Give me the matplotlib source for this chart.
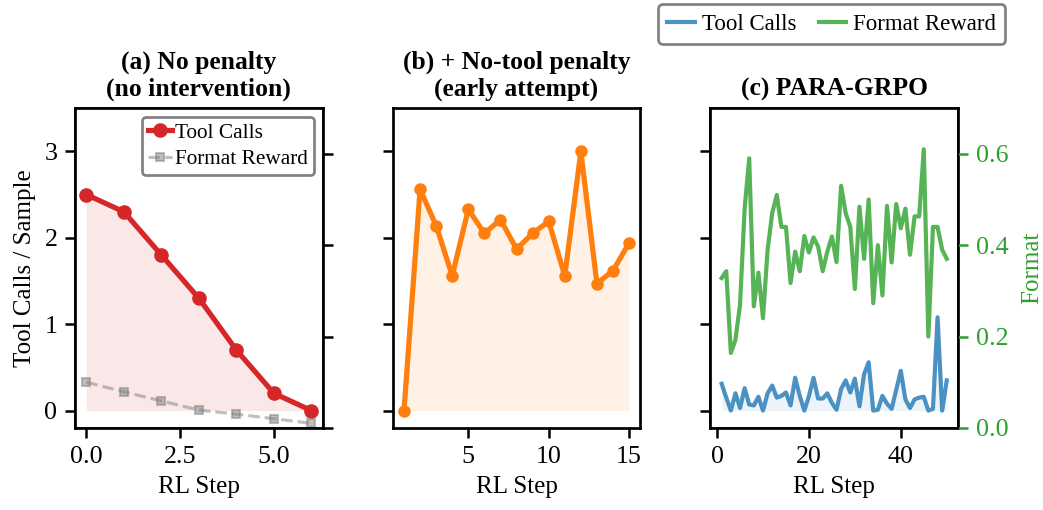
import matplotlib
matplotlib.use('Agg')
import matplotlib.pyplot as plt

plt.rcParams['font.family'] = ['Liberation Serif', 'DejaVu Serif']
plt.rcParams['font.size'] = 12

# (a) sin penalización
pasos_a = [0, 1, 2, 3, 4, 5, 6]
llamadas_a = [2.5, 2.3, 1.8, 1.3, 0.7, 0.2, 0.0]
formato_a = [0.100, 0.079, 0.059, 0.039, 0.030, 0.020, 0.010]

# (b) penalización por no usar herramientas
pasos_b = list(range(1, 16))
llamadas_b = [0.0, 2.56, 2.14, 1.56, 2.33, 2.05, 2.21, 1.87, 2.05, 2.19,
              1.56, 3.0, 1.47, 1.62, 1.94]

# (c) PARA-GRPO
pasos_c = list(range(1, 51))
llamadas_c = [0.31, 0.15, 0.0, 0.2, 0.03, 0.26, 0.07, 0.06, 0.16, 0.0,
              0.2, 0.29, 0.15, 0.17, 0.21, 0.06, 0.38, 0.17, 0.0, 0.17,
              0.38, 0.14, 0.14, 0.2, 0.09, 0.01, 0.25, 0.35, 0.21, 0.37,
              0.05, 0.42, 0.56, 0.0, 0.01, 0.17, 0.08, 0.02, 0.24, 0.46,
              0.13, 0.03, 0.13, 0.15, 0.16, 0.0, 0.02, 1.08, 0.0, 0.35]
formato_c = [0.328, 0.343, 0.164, 0.193, 0.27, 0.48, 0.59, 0.266, 0.34, 0.24,
             0.39, 0.47, 0.51, 0.44, 0.44, 0.317, 0.386, 0.343, 0.42, 0.384,
             0.417, 0.397, 0.343, 0.386, 0.419, 0.363, 0.53, 0.47, 0.44, 0.304,
             0.484, 0.37, 0.50, 0.273, 0.40, 0.29, 0.486, 0.362, 0.49, 0.437,
             0.48, 0.379, 0.463, 0.463, 0.61, 0.20, 0.44, 0.44, 0.39, 0.37]

ROJO = '#d62728'
NARANJA = '#ff7f0e'
AZUL = '#1f77b4'
VERDE = '#2ca02c'

fig, axes = plt.subplots(1, 3, figsize=(1043 / 150, 510 / 150), sharey=True)
plt.subplots_adjust(left=0.072, right=0.9185, bottom=0.161, top=0.788, wspace=0.283)

for ax in axes:
    ax.set_ylim(-0.2, 3.5)
    ax.set_yticks([0, 1, 2, 3])
    ax.set_xlabel('RL Step')
    ax.tick_params(direction='out', length=5, width=1.2, labelsize=12.5)
    for s in ax.spines.values():
        s.set_linewidth(1.3)

# (a)
ax = axes[0]
ax.fill_between(pasos_a, 0, llamadas_a, color=ROJO, alpha=0.1, lw=0)
l1, = ax.plot(pasos_a, llamadas_a, color=ROJO, lw=2.5, marker='o', ms=6,
              label='Tool Calls')
ax2a = ax.twinx()
ax2a.set_ylim(0, 0.7)
ax2a.set_yticks([0, 0.2, 0.4, 0.6])
ax2a.tick_params(direction='out', length=5, width=1.2, labelright=False)
l2, = ax2a.plot(pasos_a, formato_a, color='gray', alpha=0.5, lw=1.5, ls='--',
                marker='s', ms=3.5, label='Format Reward')
leg = ax2a.legend(handles=[l1, l2], loc='upper right', fontsize=10.2,
                  handlelength=1.1, handletextpad=0.15, borderpad=0.3,
                  borderaxespad=0.4, labelspacing=0.3, edgecolor='gray',
                  framealpha=1)
leg.get_frame().set_linewidth(1.3)
ax.set_title('(a) No penalty\n(no intervention)', fontweight='bold', fontsize=12.3)
ax.set_ylabel('Tool Calls / Sample')

# (b)
ax = axes[1]
ax.fill_between(pasos_b, 0, llamadas_b, color=NARANJA, alpha=0.1, lw=0)
ax.plot(pasos_b, llamadas_b, color=NARANJA, lw=2.5, marker='o', ms=5)
ax.set_title('(b) + No-tool penalty\n(early attempt)', fontweight='bold', fontsize=12.3)

# (c)
ax = axes[2]
ax.fill_between(pasos_c, 0, llamadas_c, color=AZUL, alpha=0.08, lw=0)
h1, = ax.plot(pasos_c, llamadas_c, color=AZUL, alpha=0.8, lw=2, label='Tool Calls')
ax2c = ax.twinx()
h2, = ax2c.plot(pasos_c, formato_c, color=VERDE, alpha=0.8, lw=2, label='Format Reward')
ax2c.set_ylim(0, 0.7)
ax2c.set_yticks([0, 0.2, 0.4, 0.6])
ax2c.tick_params(direction='out', length=5, width=1.2, colors=VERDE, labelsize=12.5)
ax2c.spines['right'].set_color('black')
ax2c.set_ylabel('Format', color=VERDE, labelpad=6)
ax.set_title('(c) PARA-GRPO', fontweight='bold', fontsize=12.3)

leg = fig.legend(handles=[h1, h2], loc='upper right', bbox_to_anchor=(0.975, 1.014),
                 ncol=2, fontsize=11, handlelength=1.2, handletextpad=0.3,
                 columnspacing=1.0, borderpad=0.4, edgecolor='gray', framealpha=1)
leg.get_frame().set_linewidth(1.3)

plt.savefig('out.png', dpi=150)
plt.close()
